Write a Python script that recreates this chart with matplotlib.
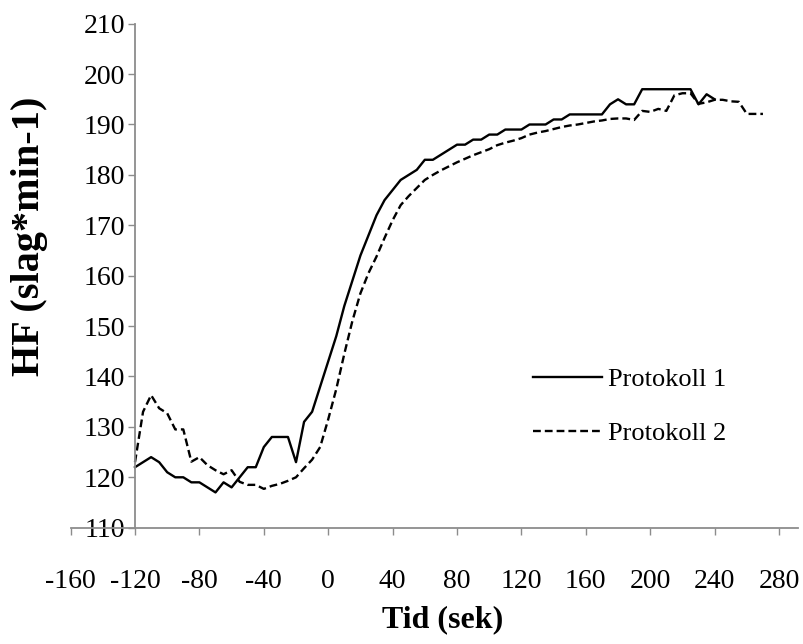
import numpy as np
import matplotlib.pyplot as plt

plt.rcParams['font.family'] = ['Liberation Serif', 'DejaVu Serif']
plt.rcParams['axes.unicode_minus'] = False

# Protokoll 1 (every 5 s from -120 to 240)
tid1 = list(range(-120, 241, 5))
hf1 = [122, 123, 124, 123, 121, 120, 120, 119, 119, 118,
       117, 119, 118, 120, 122, 122, 126, 128, 128, 128,
       123, 131, 133, 138, 143, 148, 154, 159, 164, 168,
       172, 175, 177, 179, 180, 181, 183, 183, 184, 185,
       186, 186, 187, 187, 188, 188, 189, 189, 189, 190,
       190, 190, 191, 191, 192, 192, 192, 192, 192, 194,
       195, 194, 194, 197, 197, 197, 197, 197, 197, 197,
       194, 196, 195]

# Protokoll 2 (every 5 s from -120 to 270)
tid2 = list(range(-120, 271, 5))
hf2 = [123, 133, 136.3, 133.7, 132.7, 129.5, 129.5, 123.1, 124, 122.4,
       121.4, 120.6, 121.4, 119.1, 118.5, 118.5, 117.7, 118.3, 118.7, 119.3,
       120, 121.8, 123.5, 126, 131.5, 137.5, 144.5, 151, 156.5, 160.5,
       163.8, 167.5, 171, 174, 175.8, 177.4, 179, 180, 180.9, 181.7,
       182.5, 183.2, 183.9, 184.5, 185.1, 185.9, 186.4, 186.8, 187.3, 188,
       188.4, 188.7, 189.1, 189.5, 189.8, 190, 190.3, 190.6, 190.8, 191.1,
       191.2, 191.2, 190.9, 192.7, 192.5, 193.1, 192.7, 195.8, 196.2, 196.2,
       194.1, 194.4, 194.9, 194.9, 194.6, 194.5, 192.1, 192.1, 192.1]

xticks = list(range(-160, 281, 40))
yticks = list(range(110, 211, 10))

fig = plt.figure(figsize=(8.04, 6.44), dpi=100)
ax = fig.add_axes([0.0878, 0.1806, 0.9052, 0.7826])

ax.plot(tid1, hf1, color='black', lw=1.7, label='Protokoll 1')
ax.plot(tid2, hf2, color='black', lw=1.7, linestyle=(0, (3.3, 1.7)), label='Protokoll 2')

ax.set_xlim(-160, 292)
ax.set_ylim(110, 210)
ax.set_xticks(xticks)
ax.set_yticks(yticks)

grey = '#8c8c8c'
ax.spines['left'].set_position(('data', -120))
ax.spines['top'].set_visible(False)
ax.spines['right'].set_visible(False)
for s in ['left', 'bottom']:
    ax.spines[s].set_color(grey)
    ax.spines[s].set_linewidth(1.3)

ax.tick_params(axis='both', direction='out', length=5, width=1, color=grey, labelsize=20)
ax.tick_params(axis='x', pad=25)
ax.tick_params(axis='y', pad=2)

fig.text(443 / 804, 1 - 620 / 644, 'Tid (sek)', ha='center', va='center',
         fontsize=23, fontweight='bold')
fig.text(30 / 804, 1 - 236 / 644, 'HF (slag*min-1)', ha='center', va='center',
         rotation=90, fontsize=29, fontweight='bold')

ax.legend(loc='upper left', bbox_to_anchor=(533 / 804, 1 - 368 / 644),
          bbox_transform=fig.transFigure, frameon=False, fontsize=19,
          handlelength=2.6, handletextpad=0.25, labelspacing=1.13,
          borderpad=0, borderaxespad=0)

fig.savefig('out.png', dpi=100)
